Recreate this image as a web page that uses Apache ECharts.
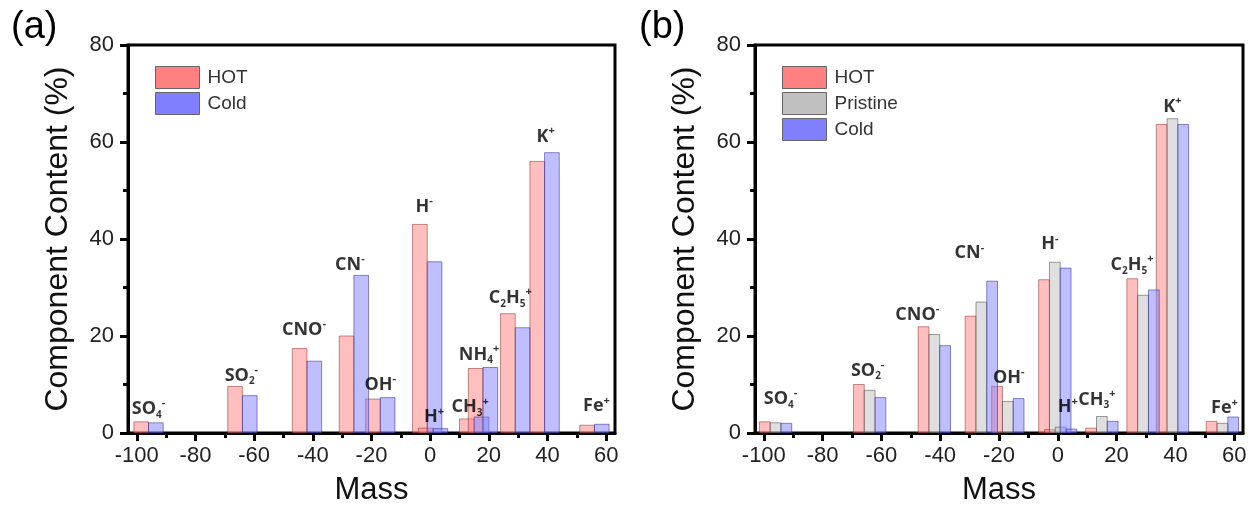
<!DOCTYPE html>
<html>
<head>
<meta charset="utf-8">
<script src="https://cdn.jsdelivr.net/npm/echarts@6/dist/echarts.min.js"></script>
<style>html,body{margin:0;padding:0;background:#fff}#c{width:1252px;height:511px}</style>
</head>
<body>
<div id="c"></div>
<script>
// ---------- data ----------
var massA = [-96, -64, -42, -26, -17, -1, 1, 15, 18, 29, 39, 56];
var labelsA = ['{m|SO}{b|4}{t|-}', '{m|SO}{b|2}{t|-}', '{m|CNO}{t|-}', '{m|CN}{t|-}', '{m|OH}{t|-}', '{m|H}{t|-}',
  '{m|H}{t|+}', '{m|CH}{b|3}{t|+}', '{m|NH}{b|4}{t|+}', '{m|C}{b|2}{m|H}{b|5}{t|+}', '{m|K}{t|+}', '{m|Fe}{t|+}'];
var hotA  = [2.3, 9.6, 17.4, 20.0, 7.0, 43.0, 1.0, 2.9, 13.3, 24.6, 56.0, 1.6];
var coldA = [2.1, 7.7, 14.8, 32.5, 7.3, 35.3, 0.9, 3.3, 13.5, 21.7, 57.8, 1.8];

var massB = [-96, -64, -42, -26, -17, -1, 1, 15, 29, 39, 56];
var labelsB = ['{m|SO}{b|4}{t|-}', '{m|SO}{b|2}{t|-}', '{m|CNO}{t|-}', '{m|CN}{t|-}', '{m|OH}{t|-}', '{m|H}{t|-}',
  '{m|H}{t|+}', '{m|CH}{b|3}{t|+}', '{m|C}{b|2}{m|H}{b|5}{t|+}', '{m|K}{t|+}', '{m|Fe}{t|+}'];
var hotB      = [2.3, 10.0, 21.9, 24.1, 9.6, 31.6, 0.7, 1.0, 31.8, 63.6, 2.4];
var pristineB = [2.1, 8.8, 20.3, 27.0, 6.5, 35.2, 1.2, 3.4, 28.4, 64.8, 2.0];
var coldB     = [2.0, 7.3, 18.0, 31.3, 7.1, 34.0, 0.8, 2.4, 29.5, 63.6, 3.3];

var majorTicks = [-100, -80, -60, -40, -20, 0, 20, 40, 60];
var minorTicks = [-90, -70, -50, -30, -10, 10, 30, 50];

// label nudges in pixels [dx, baseline gap above tallest bar]
var nudgeA = [[0,7],[-1,5],[-3,13],[-4,5],[0,7],[-3,12],[1,5],[-4,4],[-4,7],[-5,10],[1,10],[2,12]];
var nudgeB = [[5,17],[-2,8],[-17,6],[-12,22],[1,3],[-5,12],[7,14],[-5,11],[-11,8],[0,6],[2,3]];

// ---------- chart ----------
var FONT = 'Liberation Sans';
var chart = echarts.init(document.getElementById('c'), null, {renderer: 'canvas'});

function barRender(lo, hi, stroke) {
  return function (params, api) {
    var m = api.value(0), v = api.value(1);
    var p0 = api.coord([m + lo, v]);
    var p1 = api.coord([m + hi, 0]);
    return {
      type: 'rect',
      shape: {x: p0[0], y: p0[1], width: p1[0] - p0[0], height: p1[1] - p0[1]},
      style: {fill: api.visual('color'), stroke: stroke, lineWidth: 1, opacity: 0.5}
    };
  };
}
function pairs(mass, vals) { return mass.map(function (m, i) { return [m, vals[i]]; }); }

var rich = {
  m: {fontFamily: 'Open Sans', fontWeight: 'bold', fontSize: 18, color: '#000', lineHeight: 22, verticalAlign: 'middle'},
  b: {fontFamily: 'Open Sans', fontWeight: 'bold', fontSize: 10, color: '#000', lineHeight: 10, verticalAlign: 'bottom'},
  t: {fontFamily: 'Open Sans', fontWeight: 'bold', fontSize: 11, color: '#000', lineHeight: 11, verticalAlign: 'top'}
};

function labelSeries(gi, mass, labels, seriesVals, nudge) {
  return {
    type: 'scatter', xAxisIndex: gi * 2, yAxisIndex: gi, symbolSize: 0, silent: true, z: 10,
    data: mass.map(function (m, i) {
      var mx = Math.max.apply(null, seriesVals.map(function (s) { return s[i]; }));
      return {value: [m, mx], label: {offset: [nudge[i][0], -(nudge[i][1] - 5)]}};
    }),
    label: {show: true, position: 'top', distance: 0, rich: rich,
      formatter: function (p) { return labels[p.dataIndex]; }}
  };
}

function xAxes(gi) {
  return [{
    gridIndex: gi, type: 'value', min: -103, max: 63, position: 'bottom',
    axisLine: {show: true, onZero: false, lineStyle: {color: '#000', width: 3}},
    axisTick: {show: true, customValues: majorTicks, length: 8, lineStyle: {color: '#000', width: 3}},
    axisLabel: {customValues: majorTicks, fontFamily: FONT, fontSize: 22, color: '#222', margin: 12},
    splitLine: {show: false},
    name: 'Mass', nameLocation: 'middle', nameGap: 42,
    nameTextStyle: {fontFamily: FONT, fontSize: 31, color: '#111'}
  }, {
    gridIndex: gi, type: 'value', min: -103, max: 63, position: 'bottom',
    axisLine: {show: false, onZero: false},
    axisTick: {show: true, customValues: minorTicks, length: 5, lineStyle: {color: '#000', width: 3}},
    axisLabel: {show: false}, splitLine: {show: false}
  }];
}
function yAxis(gi) {
  return {
    gridIndex: gi, type: 'value', min: 0, max: 80, interval: 20, position: 'left',
    axisLine: {show: true, onZero: false, lineStyle: {color: '#000', width: 3}},
    axisTick: {show: true, length: 8, lineStyle: {color: '#000', width: 3}},
    minorTick: {show: true, splitNumber: 2, length: 5, lineStyle: {color: '#000', width: 3}},
    axisLabel: {fontFamily: FONT, fontSize: 22, color: '#222', margin: 14},
    splitLine: {show: false}, minorSplitLine: {show: false},
    name: 'Component Content (%)', nameLocation: 'middle', nameGap: 54,
    nameTextStyle: {fontFamily: FONT, fontSize: 32, color: '#111'}
  };
}

var HOTC = '#FF8080', PRIC = '#C0C0C0', COLDC = '#8080FF';
var bwB = 11 / 3;

var option = {
  backgroundColor: '#fff',
  animation: false,
  title: [
    {text: '(a)', left: 6, top: 4, textStyle: {fontFamily: FONT, fontSize: 38, fontWeight: 'normal', color: '#000'}},
    {text: '(b)', left: 634, top: 4, textStyle: {fontFamily: FONT, fontSize: 38, fontWeight: 'normal', color: '#000'}}
  ],
  legend: [
    {left: 150, top: 61, orient: 'vertical', itemWidth: 44, itemHeight: 22, itemGap: 3, icon: 'rect',
      data: ['HOT', 'Cold'], selectedMode: false,
      itemStyle: {borderColor: '#666', borderWidth: 1},
      textStyle: {fontFamily: FONT, fontSize: 19, color: '#333', padding: [0, 0, 0, 3]}},
    {left: 777, top: 61, orient: 'vertical', itemWidth: 44, itemHeight: 22, itemGap: 3, icon: 'rect',
      data: ['HOT', 'Pristine', 'Cold'], selectedMode: false,
      itemStyle: {borderColor: '#666', borderWidth: 1},
      textStyle: {fontFamily: FONT, fontSize: 19, color: '#333', padding: [0, 0, 0, 3]}}
  ],
  grid: [
    {left: 128, top: 45, width: 487, height: 391, show: true, borderColor: '#000', borderWidth: 3, backgroundColor: 'transparent'},
    {left: 755, top: 45, width: 488, height: 391, show: true, borderColor: '#000', borderWidth: 3, backgroundColor: 'transparent'}
  ],
  xAxis: xAxes(0).concat(xAxes(1)),
  yAxis: [yAxis(0), yAxis(1)],
  series: [
    {name: 'HOT', type: 'custom', xAxisIndex: 0, yAxisIndex: 0, itemStyle: {color: HOTC},
      renderItem: barRender(-5, 0, '#902020'), data: pairs(massA, hotA), clip: true},
    {name: 'Cold', type: 'custom', xAxisIndex: 0, yAxisIndex: 0, itemStyle: {color: COLDC},
      renderItem: barRender(0, 5, '#202090'), data: pairs(massA, coldA), clip: true},
    labelSeries(0, massA, labelsA, [hotA, coldA], nudgeA),

    {name: 'HOT', type: 'custom', xAxisIndex: 2, yAxisIndex: 1, itemStyle: {color: HOTC},
      renderItem: barRender(-1.5 * bwB, -0.5 * bwB, '#902020'), data: pairs(massB, hotB), clip: true},
    {name: 'Pristine', type: 'custom', xAxisIndex: 2, yAxisIndex: 1, itemStyle: {color: PRIC},
      renderItem: barRender(-0.5 * bwB, 0.5 * bwB, '#404040'), data: pairs(massB, pristineB), clip: true},
    {name: 'Cold', type: 'custom', xAxisIndex: 2, yAxisIndex: 1, itemStyle: {color: COLDC},
      renderItem: barRender(0.5 * bwB, 1.5 * bwB, '#202090'), data: pairs(massB, coldB), clip: true},
    labelSeries(1, massB, labelsB, [hotB, pristineB, coldB], nudgeB)
  ]
};
chart.setOption(option);
</script>
</body>
</html>
